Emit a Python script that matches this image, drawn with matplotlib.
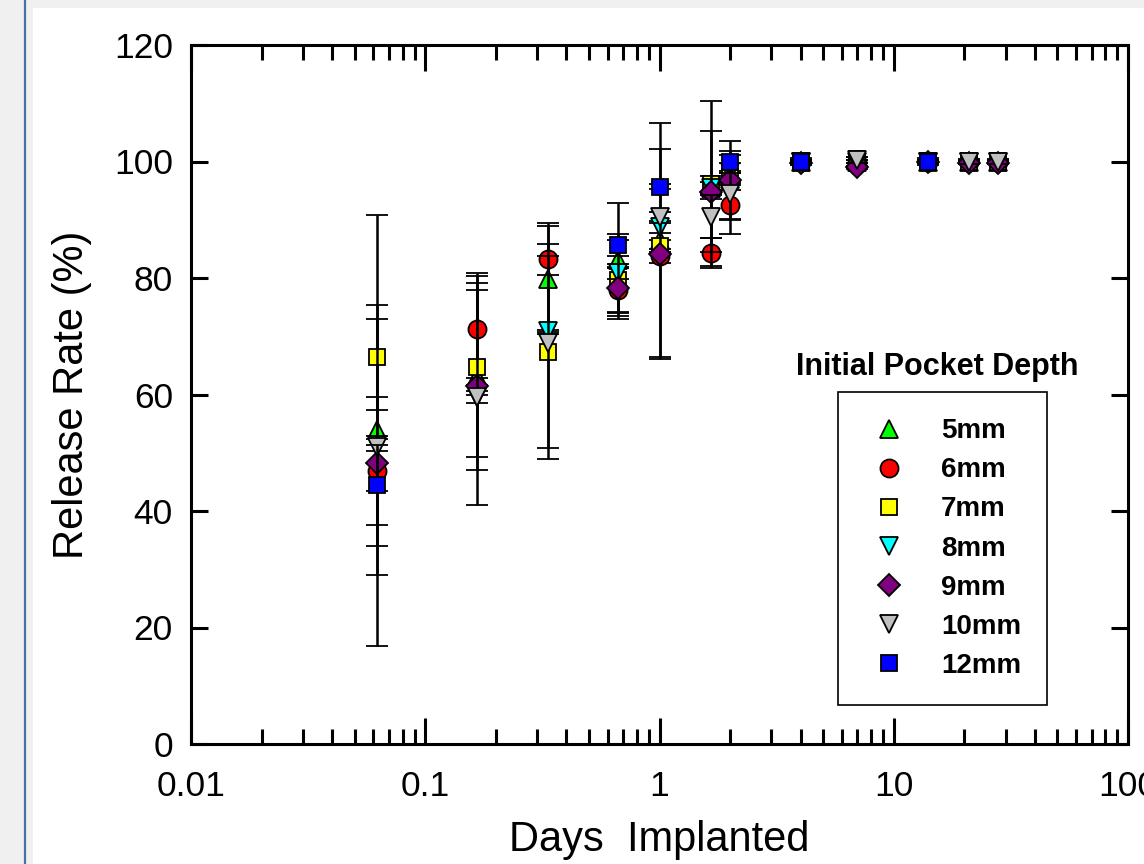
import numpy as np
import matplotlib
matplotlib.use("Agg")
import matplotlib.pyplot as plt
from matplotlib.patches import Rectangle
from matplotlib.lines import Line2D
from matplotlib.ticker import LogLocator, NullFormatter, FixedLocator

plt.rcParams['font.family'] = ['Liberation Sans', 'DejaVu Sans']

nan = np.nan
days = [0.0625, 0.1667, 0.3333, 0.6667, 1.0, 1.6667, 2.0, 4.0, 7.0, 14.0, 21.0, 28.0]

labels = ["5mm", "6mm", "7mm", "8mm", "9mm", "10mm", "12mm"]

mm5 = [53.9, 63.1, 79.9, 83.1, 86.5, 95.5, 97.0, 100.0, 100.0, 100.0, 100.0, 100.0]
mm5_err = [37.0, 16.1, 9.5, 9.7, 20.1, 2.0, 1.0, 0.3, 0.3, 0.3, 0.3, 0.3]
mm6 = [46.8, 71.2, 83.2, 77.9, 83.7, 84.3, 92.5, 100.0, 100.0, 100.0, 100.0, 100.0]
mm6_err = [12.8, 9.6, 2.6, 3.8, 1.2, 2.5, 2.6, 0.3, 0.3, 0.3, 0.3, 0.3]
mm7 = [66.4, 64.8, 67.3, 79.7, 85.5, 96.2, 97.3, 100.0, 100.5, 100.0, 100.0, 100.0]
mm7_err = [9.0, 15.5, 16.5, 6.8, 1.0, 14.2, 1.0, 0.3, 0.3, 0.3, 0.3, 0.3]
mm8 = [51.3, 59.6, 70.9, 80.9, 88.7, 95.5, 98.2, 100.0, 100.0, 100.0, 100.0, 100.0]
mm8_err = [1.0, 1.0, 0.25, 1.0, 1.0, 1.0, 1.5, 0.3, 0.3, 0.3, 0.3, 0.3]
mm9 = [48.2, 61.4, nan, 78.2, 84.1, 94.8, 96.8, 99.8, 99.0, 100.0, 99.8, 99.8]
mm9_err = [4.7, 1.4, nan, 4.2, 18.0, 10.4, 6.7, 0.3, 0.3, 0.3, 0.3, 0.3]
mm10 = [51.0, 59.5, 68.9, nan, 90.4, 90.5, 94.4, 100.0, 100.2, 100.0, 100.0, 100.0]
mm10_err = [22.0, 18.4, 20.0, nan, 1.0, 3.7, 6.8, 0.3, 0.5, 0.3, 0.5, 0.5]
mm12 = [44.5, nan, nan, 85.7, 95.7, nan, 99.9, 100.0, nan, 100.0, nan, nan]
mm12_err = [6.9, nan, nan, 1.9, 0.5, nan, 1.9, 0.6, nan, 0.6, nan, nan]

series = [mm5, mm6, mm7, mm8, mm9, mm10, mm12]
errors = [mm5_err, mm6_err, mm7_err, mm8_err, mm9_err, mm10_err, mm12_err]
markers = ['^', 'o', 's', 'v', 'D', 'v', 's']
colors = ['#00ff00', '#ff0000', '#ffff00', '#00ffff', '#800080', '#c0c0c0', '#0000ff']
msizes = [13, 13, 11.5, 13, 11, 13, 11.5]

W, H = 1144, 864
fig = plt.figure(figsize=(W / 100, H / 100), dpi=100)
fig.patch.set_facecolor('#f0f0f0')
fig.add_artist(Rectangle((33 / W, 0), 1 - 33 / W, 1 - 8 / H, transform=fig.transFigure,
                         facecolor='white', edgecolor='none', zorder=0))
fig.add_artist(Line2D([25 / W, 25 / W], [0, 1], transform=fig.transFigure,
                      color='#4a6fa5', lw=1.6, zorder=1))

ax = fig.add_axes([191 / W, 1 - 744 / H, (1128 - 191) / W, (744 - 45) / H])
ax.set_facecolor('white')

handles = []
for i, (y, e) in enumerate(zip(series, errors)):
    ax.errorbar(days, y, yerr=e, fmt=markers[i], color='black', ecolor='black',
                markerfacecolor=colors[i], markeredgecolor='black', markeredgewidth=1.3,
                markersize=msizes[i], elinewidth=1.8, capsize=8, capthick=1.8,
                zorder=3 + i, clip_on=False)
    h = Line2D([], [], linestyle='none', marker=markers[i], markerfacecolor=colors[i],
               markeredgecolor='black', markeredgewidth=1.3, markersize=msizes[i])
    handles.append(h)

ax.set_xscale('log')
ax.set_xlim(0.01, 100)
ax.set_ylim(0, 120)
ax.set_yticks([0, 20, 40, 60, 80, 100, 120])
ax.xaxis.set_major_locator(FixedLocator([0.01, 0.1, 1, 10, 100]))
ax.set_xticklabels(['0.01', '0.1', '1', '10', '100'])
ax.xaxis.set_minor_locator(LogLocator(base=10, subs=np.arange(2, 10)))
ax.xaxis.set_minor_formatter(NullFormatter())

for s in ax.spines.values():
    s.set_linewidth(2.2)

ax.tick_params(axis='x', which='major', direction='in', length=19, width=2.2,
               top=True, bottom=True, labelsize=25.5, pad=19)
ax.tick_params(axis='x', which='minor', direction='in', length=10.5, width=2.2,
               top=True, bottom=True)
ax.tick_params(axis='y', which='major', direction='in', length=12, width=2.2,
               left=True, right=True, labelsize=25.5, pad=13)

ax.set_xlabel('Days  Implanted', fontsize=30, labelpad=12)
ax.set_ylabel('Release Rate (%)', fontsize=30, labelpad=16)

fs = 20
leg = ax.legend(handles, labels, loc='upper left',
                bbox_to_anchor=(838 / W, 1 - 392 / H), bbox_transform=fig.transFigure,
                borderaxespad=0, frameon=True, fancybox=False, framealpha=1,
                edgecolor='black', borderpad=0.95, handlelength=1.8, handletextpad=0.95,
                labelspacing=0.47, prop={'weight': 'bold', 'size': fs})
leg.get_frame().set_linewidth(1.2)
leg.set_zorder(20)

fig.text(937 / W, 1 - 367 / H, 'Initial Pocket Depth', fontsize=22, fontweight='bold',
         ha='center', va='center')

fig.savefig('out.png', dpi=100, facecolor=fig.get_facecolor())
